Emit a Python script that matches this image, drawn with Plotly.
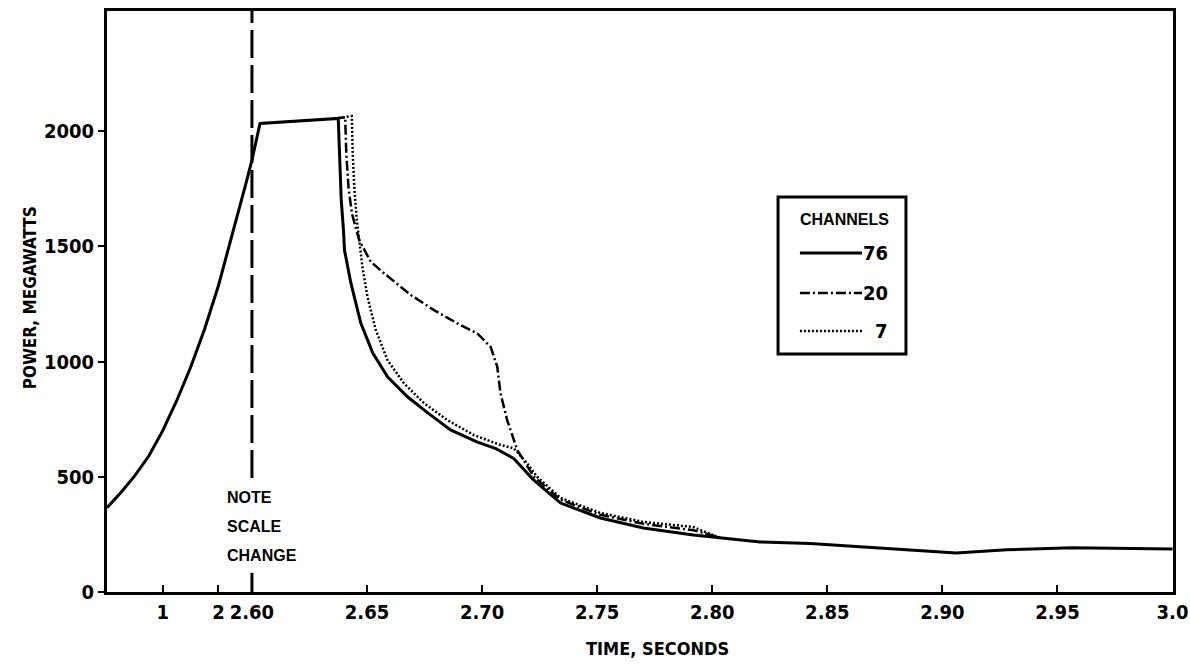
import numpy as np
import plotly.graph_objects as go

# ---------------- data (time in seconds, power in MW) ----------------
rise_t = [0, 0.25, 0.5, 0.75, 1.0, 1.25, 1.5, 1.75, 2.0, 2.25, 2.5, 2.6,
          2.6035, 2.6375]
rise_p = [366, 432, 505, 590, 700, 830, 975, 1140, 1330, 1550, 1780, 1874,
          2033, 2055]

ch76_t = [2.6383, 2.6388, 2.6398, 2.6402, 2.6430, 2.6473, 2.6525, 2.6590,
          2.6677, 2.6764, 2.6863, 2.6980, 2.7060, 2.7137, 2.7220, 2.7341,
          2.7514, 2.7701, 2.7918, 2.8035, 2.8208, 2.8425, 2.8642, 2.8989,
          2.9060, 2.9280, 2.9566, 3.0]
ch76_p = [1790, 1700, 1566, 1484, 1340, 1167, 1037, 933,
          846, 777, 703, 650, 622, 580, 490, 386,
          321, 278, 247, 234, 217, 210, 195, 174,
          169, 183, 192, 187]

ch20_t = [2.6360, 2.6405, 2.6410, 2.6420, 2.6435, 2.6466, 2.6516, 2.6574,
          2.6690, 2.6791, 2.6892, 2.6979, 2.7037, 2.7066, 2.7080, 2.7109,
          2.7153, 2.7225, 2.7341, 2.7514, 2.7701, 2.7918, 2.8035]
ch20_p = [2054, 2060, 1900, 1750, 1640, 1527, 1433, 1383,
          1289, 1223, 1166, 1122, 1064, 977, 862, 746,
          616, 500, 400, 335, 296, 268, 236]

ch7_t = [2.6360, 2.6434, 2.6438, 2.6445, 2.6455, 2.6466, 2.6480, 2.6502,
         2.6538, 2.6589, 2.6661, 2.6748, 2.6849, 2.6964, 2.7080, 2.7138,
         2.7196, 2.7239, 2.7341, 2.7514, 2.7701, 2.7918, 2.7948, 2.8022,
         2.8035]
ch7_p = [2054, 2065, 1900, 1750, 1620, 1525, 1411, 1281,
         1137, 1006, 905, 819, 746, 681, 638, 623,
         558, 500, 408, 343, 304, 282, 269, 239,
         234]

x_tick_values = [1, 2, 2.60, 2.65, 2.70, 2.75, 2.80, 2.85, 2.90, 2.95, 3.0]
x_tick_labels = ["1", "2", "2.60", "2.65", "2.70", "2.75", "2.80", "2.85",
                 "2.90", "2.95", "3.0"]
y_tick_values = [0, 500, 1000, 1500, 2000]
legend_labels = ["76", "20", "7"]

# ---------------- broken time scale ----------------
BREAK = 2.6
COMPRESS = (145 / 2.6) / 2302.5   # first segment is compressed


def to_axis(t):
    t = np.asarray(t, dtype=float)
    return np.where(t < BREAK, BREAK - (BREAK - t) * COMPRESS, t)


FONT_NUM = "DejaVu Sans Condensed, DejaVu Sans, sans-serif"
FONT_TXT = "Liberation Sans, Arial, sans-serif"

fig = go.Figure()
line76 = dict(color="black", width=3)
line20 = dict(color="black", width=2.5, dash="10px,3px,2px,3px")
line7 = dict(color="black", width=2.5, dash="2px,2px")

fig.add_trace(go.Scatter(x=to_axis(rise_t + ch76_t), y=rise_p + ch76_p,
                         mode="lines", line=line76))
fig.add_trace(go.Scatter(x=to_axis(ch20_t), y=ch20_p, mode="lines", line=line20))
fig.add_trace(go.Scatter(x=to_axis(ch7_t), y=ch7_p, mode="lines", line=line7))

xb = float(to_axis(BREAK))
shapes = [
    dict(type="line", xref="x", yref="paper", x0=xb, x1=xb, y0=0.196, y1=1,
         line=dict(color="black", width=3, dash="28px,7px")),
    dict(type="line", xref="x", yref="paper", x0=xb, x1=xb, y0=0, y1=0.033,
         line=dict(color="black", width=3, dash="28px,7px")),
    # legend box
    dict(type="rect", xref="paper", yref="paper", x0=0.6295, x1=0.7495,
         y0=0.4096, y1=0.6799, line=dict(color="black", width=3),
         fillcolor="white"),
]
leg_y = [0.5835, 0.5146, 0.4492]
for ly, ln in zip(leg_y, [line76, line20, line7]):
    shapes.append(dict(type="line", xref="paper", yref="paper",
                       x0=0.650, x1=0.7083, y0=ly, y1=ly, line=ln))

annotations = [
    dict(text="CHANNELS", xref="paper", yref="paper", x=0.6915, y=0.6403,
         showarrow=False, font=dict(family=FONT_TXT, size=16, color="black",
                                    weight="bold"),
         xanchor="center", yanchor="middle"),
    dict(text="TIME, SECONDS", xref="paper", yref="paper", x=0.516, y=-0.097,
         showarrow=False, font=dict(family=FONT_NUM, size=18, color="black",
                                    weight="bold"),
         xanchor="center", yanchor="middle"),
    dict(text="POWER, MEGAWATTS", xref="paper", yref="paper", x=-0.072, y=0.506,
         textangle=-90, showarrow=False,
         font=dict(family=FONT_NUM, size=17, color="black", weight="bold"),
         xanchor="center", yanchor="middle"),
]
for ly, lab in zip(leg_y, legend_labels):
    annotations.append(dict(text=lab, xref="paper", yref="paper", x=0.7345,
                            y=ly, showarrow=False, xanchor="right",
                            yanchor="middle",
                            font=dict(family=FONT_NUM, size=20, color="black",
                                      weight="bold")))
for txt, py in zip(["NOTE", "SCALE", "CHANGE"], [0.1635, 0.1119, 0.0620]):
    annotations.append(dict(text=txt, xref="paper", yref="paper", x=0.111,
                            y=py, showarrow=False, xanchor="left",
                            yanchor="middle",
                            font=dict(family=FONT_TXT, size=16, color="black",
                                      weight="bold")))

fig.update_layout(
    width=1190, height=664,
    margin=dict(l=107, r=17, t=11, b=72, autoexpand=False),
    paper_bgcolor="white", plot_bgcolor="white",
    showlegend=False,
    shapes=shapes, annotations=annotations,
    xaxis=dict(range=[float(to_axis(0)), 3.0002], tickmode="array",
               tickvals=to_axis(x_tick_values).tolist(), ticktext=x_tick_labels,
               tickangle=0, automargin=False,
               ticks="inside", ticklen=7, tickwidth=2, tickcolor="black",
               showgrid=False, zeroline=False, showline=True, mirror=True,
               linecolor="black", linewidth=3,
               tickfont=dict(family=FONT_NUM, size=20, color="black",
                             weight="bold")),
    yaxis=dict(range=[0, 2521], tickmode="array", tickvals=y_tick_values,
               automargin=False,
               ticks="outside", ticklen=6, tickwidth=2, tickcolor="black",
               showgrid=False, zeroline=False, showline=True, mirror=True,
               linecolor="black", linewidth=3,
               tickfont=dict(family=FONT_NUM, size=20, color="black",
                             weight="bold")),
)

fig.write_html("out.html")
